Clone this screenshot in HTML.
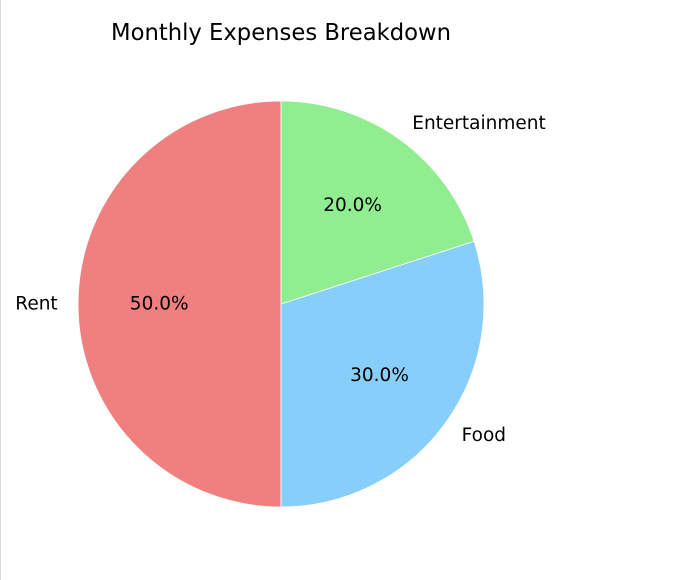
<!DOCTYPE html>
<html><head><meta charset="utf-8"><style>
html,body{margin:0;padding:0;background:#fff;}
svg{display:block;font-family:"DejaVu Sans","Liberation Sans",sans-serif;}
</style></head><body>
<svg id="chart" width="690" height="580">
<line x1="0.5" y1="0" x2="0.5" y2="580" stroke="#ddd"/>
<text x="281" y="40" text-anchor="middle" font-size="22.7" fill="#000">Monthly Expenses Breakdown</text>
<g id="slices"></g>
</svg>
<script>
const categories = ["Rent", "Food", "Entertainment"];
const values = [50, 30, 20];
const colors = ["#f08080", "#87cefa", "#90ee90"];
const cx = 281, cy = 304, r = 203;
const g = document.getElementById('slices');
const ns = 'http://www.w3.org/2000/svg';
const total = values.reduce((a, b) => a + b, 0);
let start = 90;
function pt(a, rr) { const t = a * Math.PI / 180; return [cx + rr * Math.cos(t), cy - rr * Math.sin(t)]; }
values.forEach((v, i) => {
  const sweep = v / total * 360;
  const end = start + sweep;
  const [x1, y1] = pt(start, r), [x2, y2] = pt(end, r);
  const p = document.createElementNS(ns, 'path');
  p.setAttribute('d', `M${cx},${cy} L${x1},${y1} A${r},${r} 0 ${sweep > 180 ? 1 : 0} 0 ${x2},${y2} Z`);
  p.setAttribute('fill', colors[i]);
  p.setAttribute('stroke', '#fff');
  p.setAttribute('stroke-width', '0.8');
  
  
  g.appendChild(p);
  const mid = start + sweep / 2;
  const [lx, ly] = pt(mid, r * 1.1);
  const c = Math.cos(mid * Math.PI / 180);
  const t = document.createElementNS(ns, 'text');
  t.setAttribute('x', lx); t.setAttribute('y', ly);
  t.setAttribute('font-size', '18.5');
  t.setAttribute('dominant-baseline', 'central');
  t.setAttribute('text-anchor', c < -0.01 ? 'end' : 'start');
  t.textContent = categories[i];
  
  
  g.appendChild(t);
  const [px, py] = pt(mid, r * 0.6);
  const q = document.createElementNS(ns, 'text');
  q.setAttribute('x', px); q.setAttribute('y', py);
  q.setAttribute('font-size', '18.5');
  q.setAttribute('dominant-baseline', 'central');
  q.setAttribute('text-anchor', 'middle');
  q.textContent = (v / total * 100).toFixed(1) + '%';
  
  
  g.appendChild(q);
  start = end;
});
</script>
</body></html>
